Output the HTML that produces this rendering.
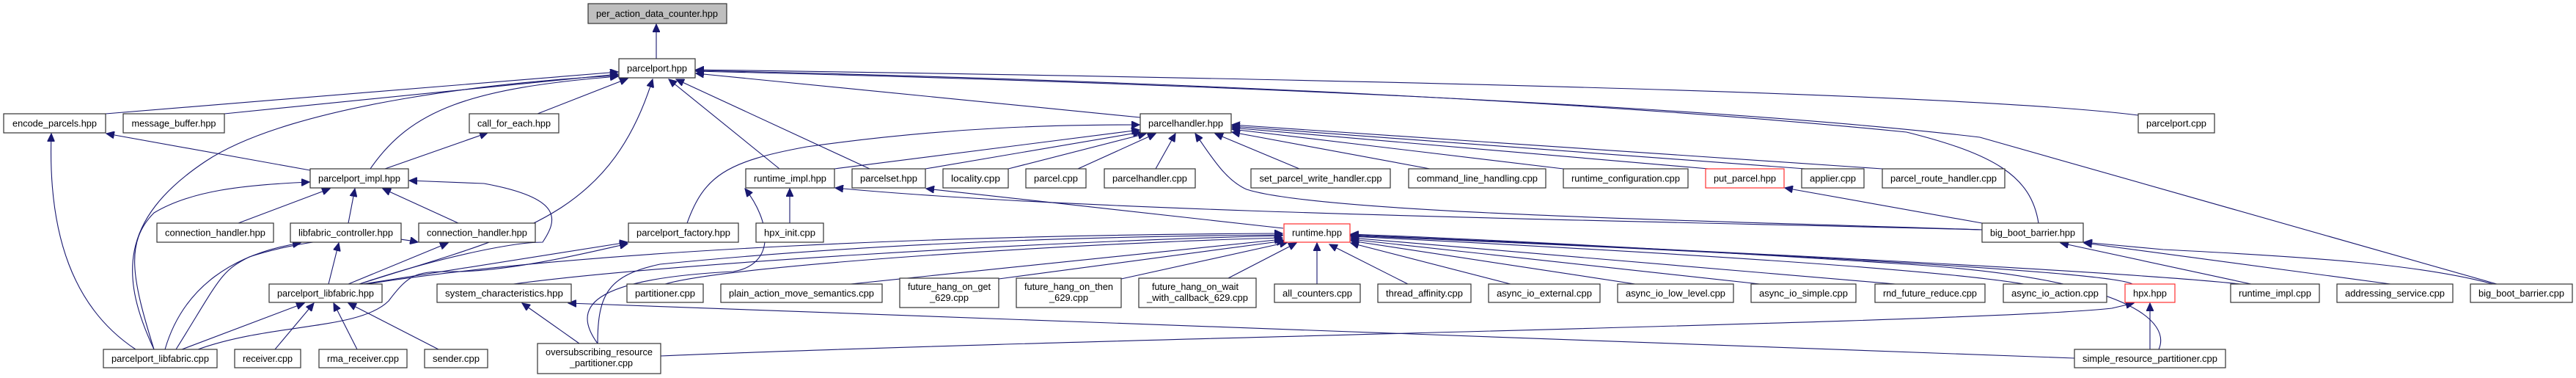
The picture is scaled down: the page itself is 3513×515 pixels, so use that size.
<!DOCTYPE html>
<html><head><meta charset="utf-8"><style>
html,body{margin:0;padding:0;background:#fff;width:3513px;height:515px;overflow:hidden}
svg{display:block}
text{font-family:"Liberation Sans",Arial,sans-serif;font-size:12.5px;fill:#000;text-anchor:middle}
rect{fill:#fff;stroke:#333;stroke-width:1.2}
.r{stroke:#ff3030}
.g{fill:#bfbfbf}
path{fill:none;stroke:#191970;stroke-width:1.1}
</style></head><body>
<svg width="3513" height="515" viewBox="0 0 3513 515" xmlns="http://www.w3.org/2000/svg">
<defs><marker id="a" markerUnits="userSpaceOnUse" markerWidth="12" markerHeight="10" refX="11" refY="5" orient="auto"><path d="M0,0 L11,5 L0,10 Z" style="fill:#191970;stroke:#191970"/></marker></defs>
<g marker-end="url(#a)">
<path d="M895,80 L895,33"/>
<path d="M144,155 L843,98"/>
<path d="M306,155 L843,101"/>
<path d="M210,476 C165,380 160,300 280,220 C400,140 700,110 843,103"/>
<path d="M505,230 C560,150 640,120 843,104"/>
<path d="M733,155 L856,107"/>
<path d="M490,387 C700,320 830,300 890,108"/>
<path d="M1063,230 L912,108"/>
<path d="M1186,230 L922,108"/>
<path d="M1555,160 L949,100"/>
<path d="M2916,157 C2700,130 2000,110 949,95"/>
<path d="M2780,304 C2770,240 2720,210 2600,180 C2200,140 1600,110 949,96"/>
<path d="M3405,387 L2700,187 C2300,140 1500,110 949,97"/>
<path d="M423,232 L145,182"/>
<path d="M185,476 C100,420 65,320 70,182"/>
<path d="M525,230 L665,181"/>
<path d="M210,476 C180,380 170,330 210,290 C260,260 330,252 422,248"/>
<path d="M325,304 L450,257"/>
<path d="M475,304 L484,257"/>
<path d="M625,304 L522,257"/>
<path d="M490,387 C600,350 700,330 740,330 C760,300 770,270 660,250 L558,246"/>
<path d="M225,476 C250,390 320,345 410,331"/>
<path d="M240,476 C300,380 300,370 340,350 C400,330 500,315 570,330"/>
<path d="M475,387 L611,331"/>
<path d="M448,387 L462,331"/>
<path d="M248,476 L415,413"/>
<path d="M375,476 L428,413"/>
<path d="M487,476 L455,413"/>
<path d="M598,476 L475,413"/>
<path d="M495,387 L856,330"/>
<path d="M270,476 C370,440 490,450 530,410 C560,370 570,370 620,370 C700,370 820,340 856,332"/>
<path d="M937,304 C960,240 990,220 1100,200 C1300,172 1450,170 1554,170"/>
<path d="M1138,230 L1554,177"/>
<path d="M1262,230 L1556,180"/>
<path d="M1375,230 L1563,182"/>
<path d="M1470,230 L1576,182"/>
<path d="M1576,230 L1603,182"/>
<path d="M2703,313 C2300,300 1800,290 1700,258 C1670,245 1650,210 1630,182"/>
<path d="M1772,230 L1657,182"/>
<path d="M1950,230 L1680,180"/>
<path d="M2132,230 L1680,176"/>
<path d="M2330,230 L1680,174"/>
<path d="M2462,230 L1680,172"/>
<path d="M2567,230 L1680,170"/>
<path d="M1077,304 L1077,257"/>
<path d="M2703,313 C2200,300 1500,290 1139,256"/>
<path d="M815,468 C780,420 800,380 1000,370 C1060,360 1050,300 1016,257"/>
<path d="M1750,311 L1263,257"/>
<path d="M500,387 C800,340 1300,320 1749,318"/>
<path d="M700,387 C900,360 1400,330 1749,321"/>
<path d="M907,387 C1000,360 1500,330 1749,324"/>
<path d="M1160,387 L1749,326"/>
<path d="M1362,380 L1752,328"/>
<path d="M1529,380 L1756,330"/>
<path d="M1673,380 L1768,331"/>
<path d="M1796,387 L1796,331"/>
<path d="M1920,387 L1813,333"/>
<path d="M2060,387 L1842,331"/>
<path d="M2230,387 L1842,328"/>
<path d="M2400,387 L1842,326"/>
<path d="M2585,387 L1842,324"/>
<path d="M2760,387 C2600,360 2000,330 1842,322"/>
<path d="M2908,387 C2880,370 2400,345 1842,321"/>
<path d="M3055,387 C2900,370 2300,340 1842,320"/>
<path d="M2944,476 C2960,440 2910,380 2600,360 C2300,340 2000,325 1842,319"/>
<path d="M815,468 C815,400 830,375 900,360 C1200,330 1500,322 1749,320"/>
<path d="M2703,304 L2434,256"/>
<path d="M3070,387 L2810,331"/>
<path d="M3260,387 L2842,331"/>
<path d="M3400,387 C3300,360 3150,350 2950,340 L2842,330"/>
<path d="M901,485 C1500,460 2700,440 2880,420 L2910,413"/>
<path d="M2932,476 L2932,413"/>
<path d="M790,468 L712,413"/>
<path d="M2829,488 L775,413"/>
</g>
<rect class="g" x="802" y="5" width="189" height="27"/><text x="896" y="23" textLength="166" lengthAdjust="spacingAndGlyphs">per_action_data_counter.hpp</text>
<rect x="844" y="80" width="104" height="26"/><text x="896" y="97.5" textLength="82" lengthAdjust="spacingAndGlyphs">parcelport.hpp</text>
<rect x="5" y="155" width="139" height="26"/><text x="74.5" y="172.5" textLength="115" lengthAdjust="spacingAndGlyphs">encode_parcels.hpp</text>
<rect x="168" y="155" width="138" height="26"/><text x="237" y="172.5" textLength="115" lengthAdjust="spacingAndGlyphs">message_buffer.hpp</text>
<rect x="640" y="155" width="122" height="26"/><text x="701" y="172.5" textLength="100" lengthAdjust="spacingAndGlyphs">call_for_each.hpp</text>
<rect x="1555" y="155" width="124" height="26"/><text x="1617" y="172.5" textLength="102" lengthAdjust="spacingAndGlyphs">parcelhandler.hpp</text>
<rect x="2916" y="155" width="104" height="26"/><text x="2968" y="172.5" textLength="82" lengthAdjust="spacingAndGlyphs">parcelport.cpp</text>
<rect x="423" y="230" width="134" height="26"/><text x="490" y="247.5" textLength="112" lengthAdjust="spacingAndGlyphs">parcelport_impl.hpp</text>
<rect x="1017" y="230" width="121" height="26"/><text x="1077.5" y="247.5" textLength="99" lengthAdjust="spacingAndGlyphs">runtime_impl.hpp</text>
<rect x="1162" y="230" width="100" height="26"/><text x="1212" y="247.5" textLength="78" lengthAdjust="spacingAndGlyphs">parcelset.hpp</text>
<rect x="1286" y="230" width="89" height="26"/><text x="1330.5" y="247.5" textLength="67" lengthAdjust="spacingAndGlyphs">locality.cpp</text>
<rect x="1399" y="230" width="82" height="26"/><text x="1440" y="247.5" textLength="60" lengthAdjust="spacingAndGlyphs">parcel.cpp</text>
<rect x="1506" y="230" width="124" height="26"/><text x="1568" y="247.5" textLength="102" lengthAdjust="spacingAndGlyphs">parcelhandler.cpp</text>
<rect x="1706" y="230" width="190" height="26"/><text x="1801" y="247.5" textLength="167" lengthAdjust="spacingAndGlyphs">set_parcel_write_handler.cpp</text>
<rect x="1921" y="230" width="187" height="26"/><text x="2014.5" y="247.5" textLength="165" lengthAdjust="spacingAndGlyphs">command_line_handling.cpp</text>
<rect x="2132" y="230" width="170" height="26"/><text x="2217" y="247.5" textLength="148" lengthAdjust="spacingAndGlyphs">runtime_configuration.cpp</text>
<rect class="r" x="2326" y="230" width="107" height="26"/><text x="2379.5" y="247.5" textLength="85" lengthAdjust="spacingAndGlyphs">put_parcel.hpp</text>
<rect x="2457" y="230" width="85" height="26"/><text x="2499.5" y="247.5" textLength="63" lengthAdjust="spacingAndGlyphs">applier.cpp</text>
<rect x="2567" y="230" width="167" height="26"/><text x="2650.5" y="247.5" textLength="145" lengthAdjust="spacingAndGlyphs">parcel_route_handler.cpp</text>
<rect x="214" y="304" width="159" height="26"/><text x="293.5" y="321.5" textLength="137" lengthAdjust="spacingAndGlyphs">connection_handler.hpp</text>
<rect x="396" y="304" width="151" height="26"/><text x="471.5" y="321.5" textLength="129" lengthAdjust="spacingAndGlyphs">libfabric_controller.hpp</text>
<rect x="571" y="304" width="159" height="26"/><text x="650.5" y="321.5" textLength="137" lengthAdjust="spacingAndGlyphs">connection_handler.hpp</text>
<rect x="857" y="304" width="150" height="26"/><text x="932" y="321.5" textLength="128" lengthAdjust="spacingAndGlyphs">parcelport_factory.hpp</text>
<rect x="1031" y="304" width="92" height="26"/><text x="1077" y="321.5" textLength="70" lengthAdjust="spacingAndGlyphs">hpx_init.cpp</text>
<rect class="r" x="1751" y="305" width="90" height="25"/><text x="1796" y="321.5" textLength="68" lengthAdjust="spacingAndGlyphs">runtime.hpp</text>
<rect x="2703" y="304" width="138" height="26"/><text x="2772" y="321.5" textLength="116" lengthAdjust="spacingAndGlyphs">big_boot_barrier.hpp</text>
<rect x="367" y="387" width="154" height="25"/><text x="444" y="404" textLength="132" lengthAdjust="spacingAndGlyphs">parcelport_libfabric.hpp</text>
<rect x="596" y="387" width="183" height="25"/><text x="687.5" y="404" textLength="161" lengthAdjust="spacingAndGlyphs">system_characteristics.hpp</text>
<rect x="855" y="387" width="104" height="25"/><text x="907" y="404" textLength="82" lengthAdjust="spacingAndGlyphs">partitioner.cpp</text>
<rect x="983" y="387" width="220" height="25"/><text x="1093" y="404" textLength="198" lengthAdjust="spacingAndGlyphs">plain_action_move_semantics.cpp</text>
<rect x="1227" y="379" width="135" height="40"/><text x="1294.5" y="395" textLength="113" lengthAdjust="spacingAndGlyphs">future_hang_on_get</text><text x="1294.5" y="410" textLength="53" lengthAdjust="spacingAndGlyphs">_629.cpp</text>
<rect x="1386" y="379" width="143" height="40"/><text x="1457.5" y="395" textLength="121" lengthAdjust="spacingAndGlyphs">future_hang_on_then</text><text x="1457.5" y="410" textLength="53" lengthAdjust="spacingAndGlyphs">_629.cpp</text>
<rect x="1553" y="379" width="160" height="40"/><text x="1630" y="395" textLength="118" lengthAdjust="spacingAndGlyphs">future_hang_on_wait</text><text x="1633" y="410" textLength="138" lengthAdjust="spacingAndGlyphs">_with_callback_629.cpp</text>
<rect x="1738" y="387" width="117" height="25"/><text x="1796.5" y="404" textLength="95" lengthAdjust="spacingAndGlyphs">all_counters.cpp</text>
<rect x="1879" y="387" width="127" height="25"/><text x="1942.5" y="404" textLength="105" lengthAdjust="spacingAndGlyphs">thread_affinity.cpp</text>
<rect x="2030" y="387" width="152" height="25"/><text x="2106" y="404" textLength="130" lengthAdjust="spacingAndGlyphs">async_io_external.cpp</text>
<rect x="2206" y="387" width="158" height="25"/><text x="2285" y="404" textLength="136" lengthAdjust="spacingAndGlyphs">async_io_low_level.cpp</text>
<rect x="2388" y="387" width="143" height="25"/><text x="2459.5" y="404" textLength="121" lengthAdjust="spacingAndGlyphs">async_io_simple.cpp</text>
<rect x="2557" y="387" width="150" height="25"/><text x="2632" y="404" textLength="128" lengthAdjust="spacingAndGlyphs">rnd_future_reduce.cpp</text>
<rect x="2732" y="387" width="141" height="25"/><text x="2802.5" y="404" textLength="119" lengthAdjust="spacingAndGlyphs">async_io_action.cpp</text>
<rect class="r" x="2898" y="387" width="68" height="25"/><text x="2932" y="404" textLength="46" lengthAdjust="spacingAndGlyphs">hpx.hpp</text>
<rect x="3042" y="387" width="121" height="25"/><text x="3102.5" y="404" textLength="99" lengthAdjust="spacingAndGlyphs">runtime_impl.cpp</text>
<rect x="3187" y="387" width="158" height="25"/><text x="3266" y="404" textLength="136" lengthAdjust="spacingAndGlyphs">addressing_service.cpp</text>
<rect x="3369" y="387" width="139" height="25"/><text x="3438.5" y="404" textLength="117" lengthAdjust="spacingAndGlyphs">big_boot_barrier.cpp</text>
<rect x="141" y="476" width="155" height="25"/><text x="218.5" y="493" textLength="133" lengthAdjust="spacingAndGlyphs">parcelport_libfabric.cpp</text>
<rect x="320" y="476" width="90" height="25"/><text x="365" y="493" textLength="68" lengthAdjust="spacingAndGlyphs">receiver.cpp</text>
<rect x="435" y="476" width="120" height="25"/><text x="495" y="493" textLength="98" lengthAdjust="spacingAndGlyphs">rma_receiver.cpp</text>
<rect x="579" y="476" width="86" height="25"/><text x="622" y="493" textLength="64" lengthAdjust="spacingAndGlyphs">sender.cpp</text>
<rect x="733" y="468" width="168" height="41"/><text x="817" y="484" textLength="146" lengthAdjust="spacingAndGlyphs">oversubscribing_resource</text><text x="820" y="499" textLength="86" lengthAdjust="spacingAndGlyphs">_partitioner.cpp</text>
<rect x="2829" y="476" width="206" height="25"/><text x="2932" y="493" textLength="184" lengthAdjust="spacingAndGlyphs">simple_resource_partitioner.cpp</text>
</svg>
</body></html>
